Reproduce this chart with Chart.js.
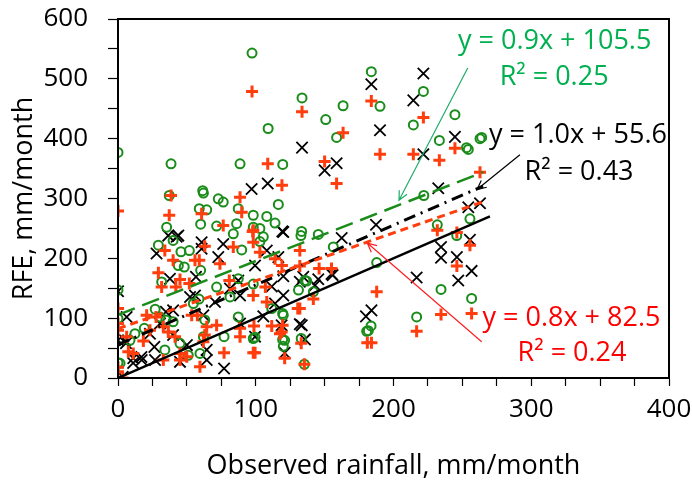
<!DOCTYPE html>
<html>
<head>
<meta charset="utf-8">
<script src="https://cdn.jsdelivr.net/npm/chart.js@4.4.1/dist/chart.umd.min.js"></script>
<style>
  html, body { margin: 0; padding: 0; background: #fff; }
  #wrap { width: 692px; height: 480px; }
</style>
</head>
<body>
<div id="wrap"><canvas id="chart" width="692" height="480"></canvas></div>
<script>
// RFE product 1 (black crosses)
const blackX = [0, 0, 3.4, 6.3, 5.8, 11.1, 17.2, 26.9, 26.4, 28, 36.5, 42.6, 37.7, 34.8, 30.5, 23.2, 40, 40, 50, 45,
    55.9, 52.3, 56.6, 60.7, 60.7, 62, 64.4, 64.4, 70.4, 72.8, 76.4, 77, 81.3, 87.3, 88.6, 88.6, 97, 99.5, 108.7, 108,
    116.4, 119.3, 120, 120, 111.6, 114, 105.5, 118.8, 121, 132, 135.7, 132, 134.5, 143, 145.4, 155.8, 162.4, 187.3,
    133.6, 150, 158.7, 183.9, 190.2, 221.7, 214.4, 221.7, 244.6, 232.5, 254.3, 262.8, 255.5, 256.7, 246, 247, 234.5,
    234.5, 216.8, 180, 184, 99.5, 5, 11, 17, 43.8, 120, 133.4, 155];
const blackY = [145, 63, 2, 102, 58, 33, 30, 30, 52, 208, 238, 236, 166, 110.5, 91, 74, 113, 72, 55, 27,
    138, 135.5, 169, 227, 216, 105, 30, 47, 127, 202, 224, 16, 149.5, 163, 138, 91, 316, 188, 325, 213,
    202, 245, 170, 138, 153, 124.5, 103, 88, 42, 90, 64.5, 161, 169, 155, 165, 172, 234, 256,
    385, 347, 359, 491, 414, 509, 464, 374, 403, 317, 285.5, 292, 231, 179, 202, 163, 219,
    201, 168, 103, 113, 69, 63, 25, 35, 238, 244, 88, 174];

// RFE product 2 (green circles)
const greenX = [0, 0, 0, 0, 12.3, 19.1, 29.3, 35.3, 37.2, 40, 45.7, 51.8, 43.8, 48.1, 31.7, 30.5, 34.8, 40, 34, 45,
    51, 54.7, 60, 60, 59, 64.4, 62, 63, 62, 59.5, 71.6, 72.8, 76.4, 77, 81.3, 83.7, 87.3, 87.3, 86.1, 87.3,
    98.2, 98.2, 98.2, 97.3, 109, 38.5, 88.6, 119.6, 133.6, 150.8, 163.4, 158.7, 183.9, 190.2, 61.5, 221.7, 214.4,
    233.3, 244.6, 254.3, 262.8, 222, 255.5, 256.7, 245.9, 234.5, 231.8, 216.8, 187.8, 183.7, 181.7, 145.4, 133.3,
    156.3, 137, 131, 133, 135.3, 119.5, 119.5, 141.8, 135.7, 116.4, 108, 114, 103, 132.8, 105.5, 103, 98.2,
    111.6, 120, 121, 120, 99.5, 180.5, 27, 71.6, 89.8, 58.8, 8.7, 1.5, 253, 264];
const greenY = [377, 147, 99.5, 25.5, 74, 83, 222, 252, 305, 230, 211, 213, 188, 185.5, 160.5, 102, 97, 94, 47, 58,
    38, 124.5, 180, 257, 283, 281, 309, 97, 69, 41, 152, 299.5, 294, 69, 135.5, 241, 166, 102, 258, 283,
    272, 252, 66, 543, 417, 358, 358, 357, 468, 432, 455, 402, 512, 454, 313, 479, 423,
    397, 440, 382, 400, 305, 266, 133, 238, 148, 256, 102, 193, 87, 79, 240, 245,
    219, 162, 147, 66, 23, 108, 64, 144, 163, 290, 270, 259, 250, 238, 236, 228, 157,
    116, 105, 63, 53, 68, 78, 115, 254, 214, 132, 63, 24.5, 385, 402];

// RFE product 3 (red plus signs)
const redX = [0, 0, 0, 0, 0, 0, 3.4, 6.3, 7.5, 11.1, 18.4, 20.8, 27.6, 29.3, 34, 37.2, 38.5, 40, 31.7, 45,
    42, 32.9, 36.5, 23.2, 41.4, 32.9, 45, 45, 49.9, 53.5, 51.8, 55.9, 59, 63, 60.7, 57.6, 64.4, 63, 62, 59.5,
    71.6, 74, 76.4, 77, 80.8, 83.7, 88.6, 88.6, 89.8, 88.6, 98.2, 98.2, 98.2, 97.3, 108.7, 133.6, 163.4, 150,
    158.7, 183.9, 190.2, 119, 221.7, 214.4, 233.3, 244.6, 262.8, 255.5, 256.7, 246, 246, 231.8, 234.5, 216.8,
    187.8, 181, 184, 132, 132, 146, 155, 119, 132, 133, 135.3, 121, 119.5, 117.6, 141.8, 97.8, 103, 114,
    108, 98.2, 107, 111.6, 98.7, 118.8, 130.5, 99.5];
const redY = [279, 116, 91, 80, 18, 10.5, 0, 69, 44, 41, 62, 105, 102, 176, 213, 272, 305, 197, 152, 164.5,
    152, 85.5, 77, 80, 69, 30, 41, 30, 35.5, 105, 158, 197, 197, 220, 274.5, 105, 85.5, 72, 60.5, 19,
    88, 191, 255, 42, 163, 219, 83, 69, 277, 302, 247, 227, 42, 479, 358, 445, 410, 362,
    325, 463, 374, 322, 435.5, 374, 364, 384, 344, 222, 108, 243, 187, 247, 106, 78,
    144, 59, 59, 213, 187, 183, 183, 188, 116, 58, 23, 33, 88, 74, 132, 245, 210, 199.5,
    127, 138, 152, 87, 87, 77, 116, 42];

// fitted lines: [x start, x end], [y start, y end]
const lineX = [0, 265];
const oneToOneX = [0, 270];
const oneToOneY = [0, 270];
const blackFitY = [55.6, 320.6];
const greenFitY = [105.5, 344];
const redFitY = [82.5, 294.5];

// equation labels, in data units
const labelText = ["y = 0.9x + 105.5", "R² = 0.25", "y = 1.0x + 55.6", "R² = 0.43", "y = 0.8x + 82.5", "R² = 0.24"];
const labelX = [317, 316.6, 333.9, 334.7, 329.2, 329.6];
const labelY = [563.3, 503.3, 405, 343.3, 100, 41.7];
const labelColor = ["#00b050", "#00b050", "#000000", "#000000", "#ff0000", "#ff0000"];

// arrows from label to fitted line, in data units
const arrowFromX = [253.9, 291.8, 264];
const arrowFromY = [518, 373, 60.5];
const arrowToX = [204, 260.6, 181];
const arrowToY = [297, 315, 225.5];
const arrowColor = ["#1fae6a", "#000000", "#ff2020"];

const FONT = "'Open Sans', sans-serif";

function toXY(xs, ys) {
    return xs.map((x, i) => ({ x: x, y: ys[i] }));
}

const annotations = {
    id: "annotations",
    afterDatasetsDraw(chart) {
        const ctx = chart.ctx;
        const xs = chart.scales.x;
        const ys = chart.scales.y;
        const area = chart.chartArea;
        ctx.save();
        ctx.strokeStyle = "#000";
        ctx.lineWidth = 2;
        ctx.strokeRect(area.left, area.top, area.right - area.left, area.bottom - area.top);

        for (let i = 0; i < arrowFromX.length; i++) {
            const x1 = xs.getPixelForValue(arrowFromX[i]);
            const y1 = ys.getPixelForValue(arrowFromY[i]);
            const x2 = xs.getPixelForValue(arrowToX[i]);
            const y2 = ys.getPixelForValue(arrowToY[i]);
            const ang = Math.atan2(y2 - y1, x2 - x1);
            ctx.strokeStyle = arrowColor[i];
            ctx.lineWidth = 1.2;
            ctx.beginPath();
            ctx.moveTo(x1, y1);
            ctx.lineTo(x2, y2);
            ctx.moveTo(x2 - 10 * Math.cos(ang - 0.45), y2 - 10 * Math.sin(ang - 0.45));
            ctx.lineTo(x2, y2);
            ctx.lineTo(x2 - 10 * Math.cos(ang + 0.45), y2 - 10 * Math.sin(ang + 0.45));
            ctx.stroke();
        }

        ctx.font = "27px " + FONT;
        ctx.textAlign = "center";
        ctx.textBaseline = "middle";
        for (let i = 0; i < labelText.length; i++) {
            ctx.fillStyle = labelColor[i];
            ctx.fillText(labelText[i], xs.getPixelForValue(labelX[i]), ys.getPixelForValue(labelY[i]));
        }
        ctx.restore();
    }
};

const ctx = document.getElementById("chart").getContext("2d");
new Chart(ctx, {
    type: "scatter",
    data: {
        datasets: [
            {
                type: "line",
                data: toXY(oneToOneX, oneToOneY),
                borderColor: "#000",
                borderWidth: 2.5,
                pointRadius: 0
            },
            {
                type: "line",
                data: toXY(lineX, redFitY),
                borderColor: "#ff3d0d",
                borderWidth: 3,
                borderDash: [8, 5],
                pointRadius: 0
            },
            {
                type: "line",
                data: toXY(lineX, blackFitY),
                borderColor: "#000",
                borderWidth: 3,
                borderDash: [12, 6, 2, 6],
                pointRadius: 0
            },
            {
                type: "line",
                data: toXY(lineX, greenFitY),
                borderColor: "#1a8c1a",
                borderWidth: 2.5,
                borderDash: [18, 8],
                pointRadius: 0
            },
            {
                data: toXY(redX, redY),
                pointStyle: "cross",
                pointRadius: 6,
                borderWidth: 3,
                borderColor: "#ff3d0d"
            },
            {
                data: toXY(greenX, greenY),
                pointStyle: "circle",
                pointRadius: 4.5,
                borderWidth: 2,
                borderColor: "#1a8c1a",
                backgroundColor: "rgba(0,0,0,0)"
            },
            {
                data: toXY(blackX, blackY),
                pointStyle: "crossRot",
                pointRadius: 8,
                borderWidth: 1.8,
                borderColor: "#000"
            }
        ]
    },
    options: {
        responsive: false,
        animation: false,
        events: [],
        layout: { padding: { left: 0, right: 23, top: 19, bottom: 0 } },
        plugins: {
            legend: { display: false },
            tooltip: { enabled: false }
        },
        scales: {
            x: {
                type: "linear",
                min: 0,
                max: 400,
                afterFit: s => {
                    s.height = 102;
                    s.paddingLeft = 0;
                    s.paddingRight = 0;
                },
                ticks: {
                    stepSize: 25,
                    autoSkip: false,
                    maxRotation: 0,
                    padding: 8,
                    color: "#000",
                    font: { family: FONT, size: 26 },
                    callback: v => (v % 100 === 0 ? v : "")
                },
                grid: { drawOnChartArea: false, drawTicks: true, tickLength: 8, color: "#000", tickWidth: 1.2 },
                border: { display: true, color: "#000", width: 2 },
                title: {
                    display: true,
                    text: "Observed rainfall, mm/month",
                    color: "#000",
                    font: { family: FONT, size: 27 },
                    padding: { top: 0, bottom: -3 }
                }
            },
            y: {
                min: 0,
                max: 600,
                afterFit: s => {
                    s.width = 118;
                    s.paddingTop = 0;
                    s.paddingBottom = 0;
                },
                ticks: {
                    stepSize: 50,
                    autoSkip: false,
                    padding: 20,
                    color: "#000",
                    font: { family: FONT, size: 26 },
                    callback: v => (v % 100 === 0 ? v : "")
                },
                grid: { drawOnChartArea: false, drawTicks: true, tickLength: 10, color: "#000", tickWidth: 1.2 },
                border: { display: true, color: "#000", width: 2 },
                title: {
                    display: true,
                    text: "RFE, mm/month",
                    color: "#000",
                    font: { family: FONT, size: 27 },
                    padding: { top: 8, bottom: 0 }
                }
            }
        }
    },
    plugins: [annotations]
});
</script>
</body>
</html>
